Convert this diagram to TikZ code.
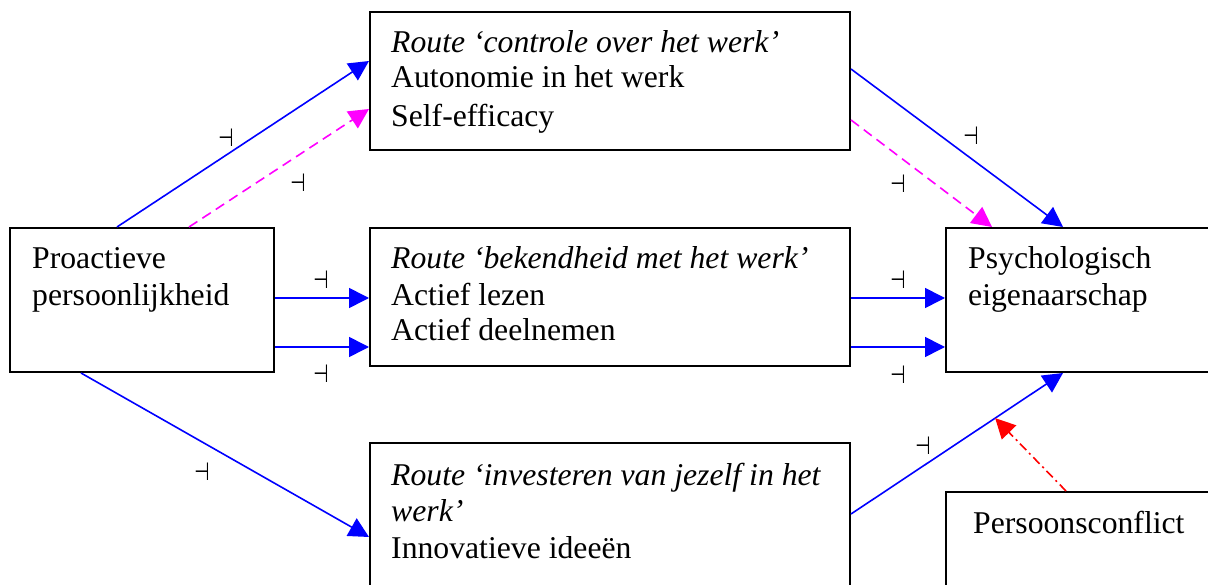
\documentclass[tikz,border=0pt]{standalone}
\usepackage{fontspec}
\setmainfont{Liberation Serif}
\newfontfamily\dejavu{DejaVu Sans}
\usetikzlibrary{arrows.meta,calc}
\definecolor{pblue}{RGB}{0,0,255}
\definecolor{pmag}{RGB}{255,0,255}
\definecolor{pred}{RGB}{255,0,0}
\begin{document}
\begin{tikzpicture}[x=1pt,y=-1pt,
  box/.style={draw=black, line width=2pt, rectangle, inner sep=0pt},
  txt/.style={anchor=base west, inner sep=0pt, font=\fontsize{31.7}{36}\selectfont},
  sign/.style={inner sep=0pt, font=\dejavu\fontsize{25}{25}\selectfont},
  tip/.style={-{Triangle[length=20pt,width=20pt]}},
  bluearrow/.style={draw=pblue, line width=1.6pt, tip, pblue},
  magarrow/.style={draw=pmag, line width=1.6pt, dash pattern=on 10pt off 6pt, tip, pmag},
  redarrow/.style={draw=pred, line width=1.6pt, dash pattern=on 9pt off 4pt on 2pt off 4pt, tip, pred},
]
\useasboundingbox (0,0) rectangle (1208,585);
\fill[white] (0,0) rectangle (1208,585);
\clip (0,0) rectangle (1208,585);

% boxes
\node[box, minimum width=264, minimum height=144] (A) at (142,300) {};
\node[box, minimum width=480, minimum height=138] (B) at (610,81) {};
\node[box, minimum width=480, minimum height=138] (C) at (610,297) {};
\node[box, minimum width=480, minimum height=150] (D) at (610,518) {};
\node[box, minimum width=280, minimum height=144] (E) at (1086,300) {};
\node[box, minimum width=280, minimum height=148] (F) at (1086,566) {};

% texts
\node[txt] (a1) at (32,269) {Proactieve};
\node[txt] (a2) at (32,306) {persoonlijkheid};

\node[txt] (b1) at (391,53) {\textit{Route ‘controle over het werk’}};
\node[txt] (b2) at (391,88) {Autonomie in het werk};
\node[txt] (b3) at (391,127) {Self-efficacy};

\node[txt] (c1) at (391,269) {\textit{Route ‘bekendheid met het werk’}};
\node[txt] (c2) at (391,306) {Actief lezen};
\node[txt] (c3) at (391,341) {Actief deelnemen};

\node[txt] (d1) at (391,485) {\textit{Route ‘investeren van jezelf in het}};
\node[txt] (d2) at (391,521) {\textit{werk’}};
\node[txt] (d3) at (391,558) {Innovatieve ideeën};

\node[txt] (e1) at (968,269) {Psychologisch};
\node[txt] (e2) at (968,306) {eigenaarschap};

\node[txt] (f1) at (973,533) {Persoonsconflict};

% connectors
\draw[bluearrow] ([xshift=108pt]A.north west) -- ([yshift=-50pt]B.north west);
\draw[magarrow] ([xshift=180pt]A.north west) -- ([yshift=-98pt]B.north west);
\draw[bluearrow] ([yshift=-71pt]A.north east) -- ([yshift=-71pt]C.north west);
\draw[bluearrow] ([yshift=-120pt]A.north east) -- ([yshift=-120pt]C.north west);
\draw[bluearrow] ([xshift=72pt]A.south west) -- ([yshift=-95pt]D.north west);

\draw[bluearrow] ([yshift=-58pt]B.north east) -- ([xshift=118pt]E.north west);
\draw[magarrow] ([yshift=-109pt]B.north east) -- ([xshift=47pt]E.north west);
\draw[bluearrow] ([yshift=-71pt]C.north east) -- ([yshift=-71pt]E.north west);
\draw[bluearrow] ([yshift=-120pt]C.north east) -- ([yshift=-120pt]E.north west);

\coordinate (dstart) at ([yshift=-72pt]D.north east);
\coordinate (dend) at ([xshift=118pt]E.south west);
\draw[bluearrow] (dstart) -- (dend);
\coordinate (m) at ($(dstart)!0.68!(dend)$);
\draw[redarrow] ([xshift=121pt]F.north west) -- (m);

% signs
\node[sign] (s1) at (226,138) {\scalebox{0.7}[1]{⊣}};
\node[sign] (s2) at (298,183) {\scalebox{0.7}[1]{⊣}};
\node[sign] (s3) at (321,280) {\scalebox{0.7}[1]{⊣}};
\node[sign] (s4) at (321,374) {\scalebox{0.7}[1]{⊣}};
\node[sign] (s5) at (202,472) {\scalebox{0.7}[1]{⊣}};
\node[sign] (s6) at (971,136) {\scalebox{0.7}[1]{⊣}};
\node[sign] (s7) at (898,184) {\scalebox{0.7}[1]{⊣}};
\node[sign] (s8) at (898,280) {\scalebox{0.7}[1]{⊣}};
\node[sign] (s9) at (898,375) {\scalebox{0.7}[1]{⊣}};
\node[sign] (s10) at (923,446) {\scalebox{0.7}[1]{⊣}};
\end{tikzpicture}
\end{document}
